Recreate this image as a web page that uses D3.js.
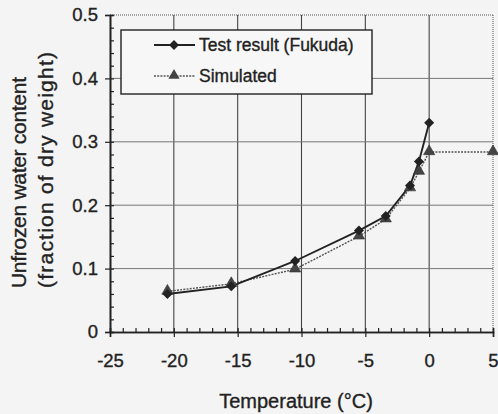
<!DOCTYPE html>
<html><head><meta charset="utf-8">
<script src="https://cdn.jsdelivr.net/npm/d3@7/dist/d3.min.js"></script>
<style>
html,body{margin:0;padding:0;background:#f4f4f4;}
svg{display:block;font-family:"Liberation Sans",Arial,sans-serif;}
</style></head>
<body><svg id="c" width="498" height="414"></svg>
<script>
const testTemp = [-20.5, -15.5, -10.5, -5.5, -3.4, -1.5, -0.8, 0];
const testWater = [0.060, 0.072, 0.112, 0.160, 0.183, 0.231, 0.269, 0.330];
const simTemp = [-20.5, -15.5, -10.5, -5.5, -3.4, -1.5, -0.8, 0, 5];
const simWater = [0.064, 0.076, 0.099, 0.151, 0.178, 0.227, 0.253, 0.284, 0.284];
const xTicks = [-25, -20, -15, -10, -5, 0, 5];
const yTicks = [0, 0.1, 0.2, 0.3, 0.4, 0.5];
const xTickLabels = ["-25", "-20", "-15", "-10", "-5", "0", "5"];
const yTickLabels = ["0", "0.1", "0.2", "0.3", "0.4", "0.5"];
const seriesNames = ["Test result (Fukuda)", "Simulated"];

const svg = d3.select("#c");
const x = d3.scaleLinear().domain([-25, 5]).range([110, 493]);
const y = d3.scaleLinear().domain([0, 0.5]).range([332, 15]);
const ink = "#222";
const bold = sel => sel.attr("stroke", ink).attr("stroke-width", 0.35);

// gridlines
const g = svg.append("g");
g.selectAll(".vg").data(xTicks.slice(1, -1)).join("line")
  .attr("x1", d => x(d)).attr("x2", d => x(d)).attr("y1", y(0)).attr("y2", y(0.5))
  .attr("stroke", "#444").attr("stroke-width", 1.1);
g.selectAll(".hg").data(yTicks.slice(1, -1)).join("line")
  .attr("x1", x(-25)).attr("x2", x(5)).attr("y1", d => y(d)).attr("y2", d => y(d))
  .attr("stroke", "#777").attr("stroke-width", 1);
g.append("line").attr("x1", x(-25)).attr("x2", x(5)).attr("y1", y(0.5)).attr("y2", y(0.5))
  .attr("stroke", "#555").attr("stroke-dasharray", "1,1");
g.append("line").attr("x1", x(5)).attr("x2", x(5)).attr("y1", y(0.5)).attr("y2", y(0))
  .attr("stroke", "#555").attr("stroke-dasharray", "1,1");

// axes
const xMinor = d3.range(-25, 5.001, 1);
const yMinor = d3.range(0, 0.5001, 0.02);
const xa = svg.append("g").attr("transform", `translate(0,${y(0)})`)
  .call(d3.axisBottom(x).tickValues(xTicks).tickFormat((d, i) => xTickLabels[i]).tickSize(5).tickPadding(17));
const xm = svg.append("g").attr("transform", `translate(0,${y(0)})`)
  .call(d3.axisTop(x).tickValues(xMinor).tickFormat("").tickSize(4));
const ya = svg.append("g").attr("transform", `translate(${x(-25)},0)`)
  .call(d3.axisLeft(y).tickValues(yTicks).tickFormat((d, i) => yTickLabels[i]).tickSize(5).tickPadding(7));
const ym = svg.append("g").attr("transform", `translate(${x(-25)},0)`)
  .call(d3.axisRight(y).tickValues(yMinor).tickFormat("").tickSize(4));
[xa, xm, ya, ym].forEach(a => {
  a.select(".domain").attr("stroke", ink).attr("stroke-width", 1.6);
  a.selectAll(".tick line").attr("stroke", ink).attr("stroke-width", 1.2);
  a.selectAll("text").attr("fill", ink).attr("font-size", 18.5)
    .attr("font-family", "Liberation Sans, Arial, sans-serif").call(bold);
});

// legend box
const lg = svg.append("g");
lg.append("rect").attr("x", 121).attr("y", 30).attr("width", 251).attr("height", 64)
  .attr("fill", "#f7f7f7").attr("stroke", ink).attr("stroke-width", 1.4);

const diamond = d3.symbol().type(d3.symbolDiamond2).size(64);
const tri = d3.symbol().type(d3.symbolTriangle).size(55);

const line = d3.line().x(d => x(d[0])).y(d => y(d[1]));
const simData = simTemp.map((t, i) => [t, simWater[i]]);
const testData = testTemp.map((t, i) => [t, testWater[i]]);
svg.append("path").datum(simData).attr("d", line).attr("fill", "none")
  .attr("stroke", "#555").attr("stroke-width", 1.4).attr("stroke-dasharray", "2,1.2");
svg.append("path").datum(testData).attr("d", line).attr("fill", "none")
  .attr("stroke", ink).attr("stroke-width", 1.9);
svg.selectAll(".tri").data(simData).join("path")
  .attr("d", tri).attr("transform", d => `translate(${x(d[0])},${y(d[1]) - 0.5})`)
  .attr("fill", "#444").attr("stroke", "#333").attr("stroke-width", 0.6);
svg.selectAll(".dia").data(testData).join("path")
  .attr("d", diamond).attr("transform", d => `translate(${x(d[0])},${y(d[1])})`)
  .attr("fill", ink);

// legend entries
lg.append("line").attr("x1", 154).attr("x2", 195).attr("y1", 45).attr("y2", 45).attr("stroke", ink).attr("stroke-width", 1.9);
lg.append("path").attr("d", diamond).attr("transform", "translate(174,45)").attr("fill", ink);
lg.append("line").attr("x1", 154).attr("x2", 195).attr("y1", 76).attr("y2", 76).attr("stroke", "#555").attr("stroke-width", 1.4).attr("stroke-dasharray", "2,1.2");
lg.append("path").attr("d", tri).attr("transform", "translate(174,75.5)").attr("fill", "#444");
lg.append("text").attr("x", 199).attr("y", 45).attr("dy", "0.36em").attr("font-size", 17.5).attr("fill", ink).call(bold).text(seriesNames[0]);
lg.append("text").attr("x", 199).attr("y", 76).attr("dy", "0.36em").attr("font-size", 17.5).attr("fill", ink).call(bold).text(seriesNames[1]);

// axis titles
svg.append("text").attr("x", 296).attr("y", 408).attr("text-anchor", "middle")
  .attr("font-size", 20).attr("fill", ink).call(bold).text("Temperature (\u00B0C)");
svg.append("text").attr("transform", "translate(26,288) rotate(-90)")
  .attr("font-size", 21).attr("fill", ink).call(bold).attr("textLength", 211).attr("lengthAdjust", "spacing")
  .text("Unfrozen water content");
svg.append("text").attr("transform", "translate(53,288) rotate(-90)")
  .attr("font-size", 21).attr("fill", ink).call(bold).attr("textLength", 236).attr("lengthAdjust", "spacing")
  .text("(fraction of dry weight)");
</script></body></html>
